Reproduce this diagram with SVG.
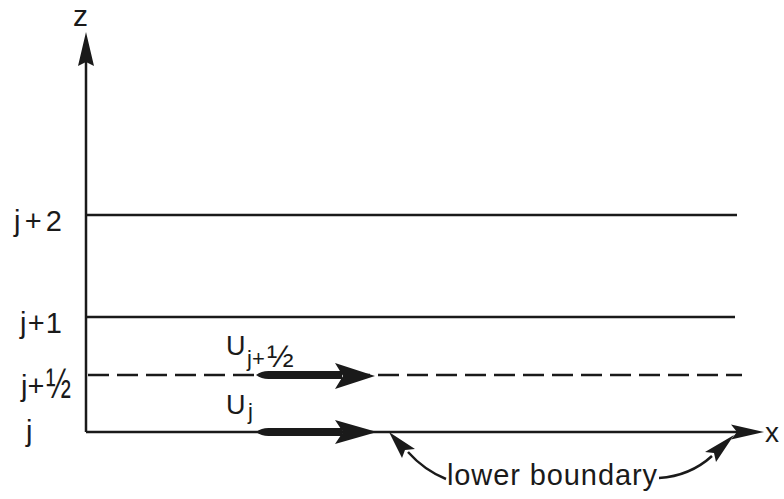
<svg xmlns="http://www.w3.org/2000/svg" width="784" height="499" viewBox="0 0 784 499">
<style>
.ln{stroke:#1a1a1a;stroke-width:2.5;fill:none}
.dash{stroke:#1a1a1a;stroke-width:2.5;fill:none;stroke-dasharray:21 8}
.fill{fill:#1a1a1a;stroke:none}
.t{font-family:"Liberation Sans",Arial,sans-serif;fill:#1a1a1a}
</style>
<rect width="784" height="499" fill="#ffffff"/>
<g id="axes">
<line class="ln" x1="86" y1="432" x2="86" y2="60"/>
<polygon class="fill" points="86,32 78,66 86,62 94,66"/>
<line class="ln" x1="86" y1="432" x2="740" y2="432"/>
<polygon class="fill" points="764,432 731,424.5 737,432 731,439.5"/>
<text class="t" x="73" y="26" font-size="30">z</text>
<text class="t" x="765" y="442" font-size="28">x</text>
</g>
<g id="levels">
<line class="ln" x1="86" y1="215" x2="737" y2="215"/>
<line class="ln" x1="86" y1="317" x2="735" y2="317"/>
<line class="dash" x1="88" y1="375" x2="742" y2="375"/>
</g>
<g id="level-labels">
<text class="t" x="14" y="231" font-size="29" textLength="48">j+2</text>
<text class="t" x="20" y="333" font-size="29" textLength="42">j+1</text>
<text class="t" x="21" y="396" font-size="29">j+</text>
<text class="t" font-size="30" transform="translate(46,398) scale(1,1.4)">½</text>
<text class="t" x="26" y="441" font-size="29">j</text>
</g>
<g id="connectors">
<path class="fill" d="M256,375 Q262,370.5 270,371 L342,371 L342,379 L270,379 Q262,379.5 256,375 Z"/>
<polygon class="fill" points="375,376 335,363 343,376 335,389"/>
<path class="fill" d="M256,432 Q262,427.5 270,428 L342,428 L342,436 L270,436 Q262,436.5 256,432 Z"/>
<polygon class="fill" points="377,432 335,420 343,432 335,444"/>
<path class="ln" d="M446,479 Q424,470 408,452"/>
<polygon class="fill" points="389,432 415,449 405,450 402,458"/>
<path class="ln" d="M659,478 Q690,476 712,456"/>
<polygon class="fill" points="734,435 716,462 714,453 705,452"/>
</g>
<g id="velocity-labels">
<text class="t" x="226" y="355" font-size="27">U</text>
<text class="t" x="247" y="366" font-size="22">j+</text>
<text class="t" x="267" y="367" font-size="32">½</text>
<text class="t" x="226" y="414" font-size="27">U</text>
<text class="t" x="248" y="419" font-size="22">j</text>
</g>
<g id="boundary-label">
<text class="t" x="447" y="485" font-size="29" textLength="210">lower boundary</text>
</g>
</svg>
